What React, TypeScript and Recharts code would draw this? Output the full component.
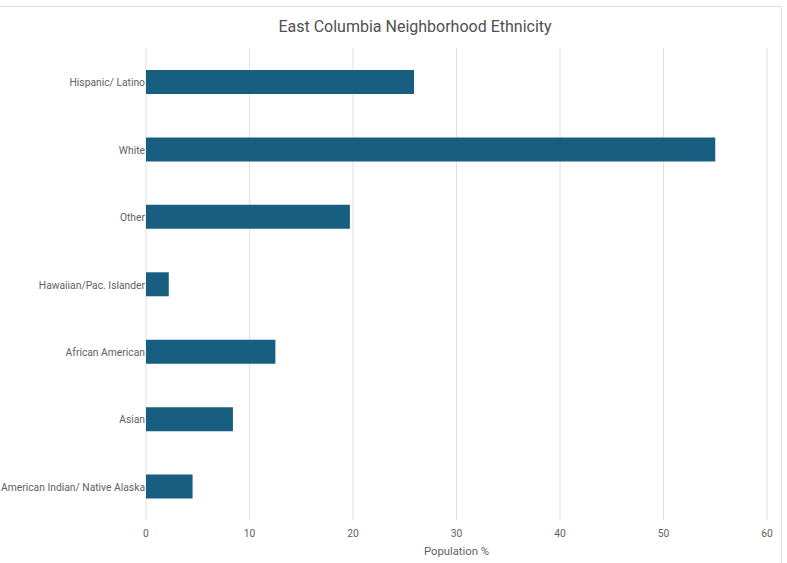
import { BarChart, Bar, XAxis, YAxis, CartesianGrid } from 'recharts';

const categories = [
  "Hispanic/ Latino",
  "White",
  "Other",
  "Hawaiian/Pac. Islander",
  "African American",
  "Asian",
  "American Indian/ Native Alaska",
]
const population = [25.9, 55, 19.7, 2.2, 12.5, 8.4, 4.5]
const xTicks = [0, 10, 20, 30, 40, 50, 60]

const data = categories.map((name, i) => ({ name, value: population[i] }))

function CategoryTick(props: any) {
  const { x, y, payload } = props
  return (
    <text x={x} y={y + 1} dy="0.35em" textAnchor="end" fontSize={10.3} fill="#5f5f5f" fontFamily="Roboto">
      {payload.value}
    </text>
  )
}

function App() {
  return (
    <div style={{ position: 'absolute', left: 0, top: 0, width: 787, height: 563, overflow: 'hidden', background: '#fff' }}>
      <div style={{ position: 'absolute', left: -4, top: 6, width: 786, height: 570, boxSizing: 'border-box', border: '1px solid #dddddd' }} />
      <div style={{ position: 'absolute', left: 0, top: 17, width: 787, textAlign: 'center', fontFamily: 'Roboto', fontSize: 16, color: '#505050', paddingLeft: 43, boxSizing: 'border-box' }}>
        East Columbia Neighborhood Ethnicity
      </div>
      <div style={{ position: 'absolute', left: 0, top: 0 }}>
        <BarChart width={787} height={563} data={data} layout="vertical"
          margin={{ top: 48, right: 20, bottom: 0, left: 0 }}>
          <CartesianGrid horizontal={false} vertical={true} stroke="#e0e0e0" />
          <YAxis type="category" dataKey="name" width={146} axisLine={false} tickLine={false}
            tickSize={0} tickMargin={1} tick={<CategoryTick />} interval={0} />
          <XAxis type="number" domain={[0, 60]} ticks={xTicks} height={43} axisLine={false}
            tickLine={false} tickSize={0} tickMargin={10}
            tick={{ fontSize: 10.3, fill: '#5f5f5f', fontFamily: 'Roboto' }}
            label={{ value: 'Population %', position: 'insideBottom', offset: 8, fontSize: 11.3, fill: '#5f5f5f', fontFamily: 'Roboto' }} />
          <Bar dataKey="value" fill="#175e81" barSize={24} isAnimationActive={false} />
        </BarChart>
      </div>
    </div>
  )
}

export default App
